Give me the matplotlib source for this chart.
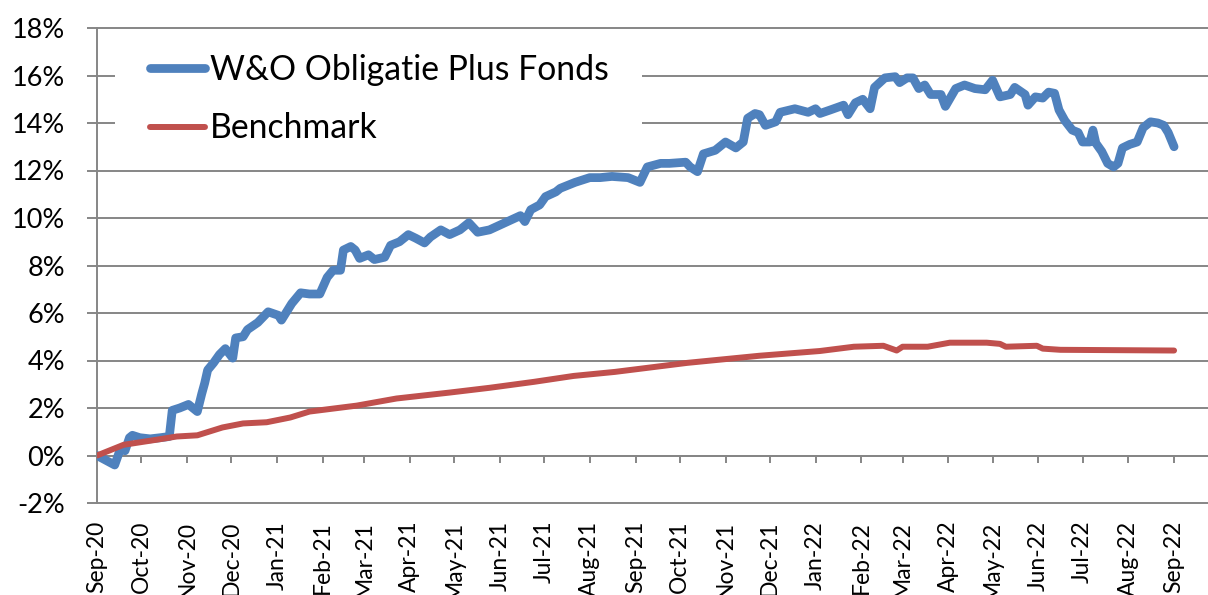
import pandas as pd
import matplotlib.pyplot as plt
import matplotlib.dates as mdates
from matplotlib.ticker import FuncFormatter
from matplotlib.patches import Rectangle

plt.rcParams['font.family'] = ['Lato', 'DejaVu Sans']

# cumulative return in % (days since 1 Sep 2020)
start = pd.Timestamp('2020-09-01')

fund_days = [0, 12, 16, 19, 22, 24, 29, 36, 43, 49, 51, 56, 62, 68, 71, 73, 75, 79, 83, 87,
             92, 94, 99, 102, 109, 116, 123, 125, 132, 138, 144, 151, 156, 160, 165, 167, 172,
             175, 178, 184, 188, 195, 199, 205, 211, 216, 222, 226, 233, 239, 246, 252, 258,
             266, 273, 280, 287, 290, 294, 300, 304, 311, 314, 324, 334, 341, 349, 360, 368,
             373, 382, 388, 399, 402, 407, 411, 419, 426, 433, 438, 441, 446, 449, 453, 460,
             463, 473, 482, 487, 490, 497, 506, 509, 514, 519, 524, 527, 534, 541, 544, 549,
             553, 557, 561, 565, 572, 575, 582, 588, 595, 602, 607, 612, 619, 622, 629, 631,
             636, 641, 645, 649, 652, 656, 661, 665, 668, 673, 675, 677, 681, 685, 689, 692,
             695, 700, 705, 709, 714, 719, 723, 726, 730]
fund_pct = [0.0, -0.4, 0.3, 0.2, 0.75, 0.85, 0.75, 0.7, 0.75, 0.8, 1.9, 2.0, 2.15, 1.85, 2.6,
            3.05, 3.6, 3.9, 4.25, 4.5, 4.1, 4.95, 5.0, 5.3, 5.6, 6.05, 5.9, 5.7, 6.4, 6.85, 6.8,
            6.8, 7.5, 7.8, 7.8, 8.65, 8.8, 8.65, 8.3, 8.45, 8.25, 8.35, 8.85, 9.0, 9.3, 9.15,
            8.95, 9.2, 9.5, 9.3, 9.5, 9.8, 9.4, 9.5, 9.7, 9.9, 10.1, 9.85, 10.35, 10.55, 10.9,
            11.1, 11.25, 11.5, 11.7, 11.7, 11.75, 11.7, 11.5, 12.15, 12.3, 12.3, 12.35, 12.15,
            11.95, 12.7, 12.85, 13.2, 12.95, 13.2, 14.2, 14.4, 14.35, 13.9, 14.05, 14.45, 14.6,
            14.45, 14.6, 14.4, 14.55, 14.75, 14.35, 14.85, 15.0, 14.6, 15.5, 15.9, 15.95, 15.7,
            15.9, 15.9, 15.45, 15.6, 15.2, 15.2, 14.7, 15.45, 15.6, 15.45, 15.4, 15.8, 15.1,
            15.2, 15.5, 15.2, 14.75, 15.1, 15.05, 15.3, 15.25, 14.55, 14.1, 13.7, 13.6, 13.2,
            13.2, 13.7, 13.15, 12.8, 12.3, 12.15, 12.3, 12.95, 13.1, 13.2, 13.8, 14.05, 14.0,
            13.9, 13.6, 13.0]

bench_days = [0, 18, 41, 54, 68, 85, 99, 115, 131, 144, 176, 203, 239, 266, 296, 323, 351,
              400, 449, 490, 513, 533, 542, 546, 563, 578, 603, 612, 616, 637, 641, 653, 730]
bench_pct = [0.0, 0.45, 0.67, 0.8, 0.85, 1.18, 1.35, 1.4, 1.6, 1.85, 2.1, 2.4, 2.65, 2.85,
             3.1, 3.35, 3.52, 3.9, 4.2, 4.4, 4.58, 4.62, 4.42, 4.58, 4.58, 4.75, 4.75, 4.7,
             4.58, 4.62, 4.5, 4.45, 4.42]

month_ticks = pd.date_range('2020-09-01', '2022-09-01', freq='MS')

grid_color = '#868686'

fig = plt.figure(figsize=(12.08, 5.95), dpi=100)
ax = fig.add_axes([97 / 1208, 1 - 503 / 595, 1 - 97 / 1208, (503 - 28) / 595])

fund_dates = start + pd.to_timedelta(fund_days, unit='D')
bench_dates = start + pd.to_timedelta(bench_days, unit='D')

ax.plot(fund_dates, fund_pct, color='#4F81BD', lw=6.3, solid_capstyle='round',
        solid_joinstyle='round', label='W&O Obligatie Plus Fonds', zorder=3)
ax.plot(bench_dates, bench_pct, color='#C0504D', lw=4.3, solid_capstyle='round',
        solid_joinstyle='round', label='Benchmark', zorder=3)

ax.set_ylim(-2, 18)
ax.set_yticks(range(-2, 19, 2))
ax.yaxis.set_major_formatter(FuncFormatter(lambda v, p: f'{v:.0f}%'))
ax.set_xlim(start, start + pd.Timedelta(days=753))
ax.set_xticks(month_ticks)
ax.xaxis.set_major_formatter(mdates.DateFormatter('%b-%y'))

ax.grid(axis='y', color=grid_color, lw=1.4)
for gl in ax.get_ygridlines():
    gl.set_clip_on(False)
ax.set_axisbelow(True)

ax.spines['top'].set_visible(False)
ax.spines['right'].set_visible(False)
ax.spines['bottom'].set_position(('data', 0))
for s in ['bottom', 'left']:
    ax.spines[s].set_color(grid_color)
    ax.spines[s].set_linewidth(1.4)

ax.tick_params(axis='x', direction='out', length=5, width=1.4, color=grid_color,
               pad=42, labelsize=16.5, labelrotation=90)
ax.tick_params(axis='y', direction='out', length=7, width=1.4, color=grid_color,
               pad=16, labelsize=19.5)

# white box behind the legend, hiding the gridlines
ax.add_patch(Rectangle((115 / 1208, 1 - 152 / 595), (642 - 115) / 1208, (152 - 40) / 595,
                       transform=fig.transFigure, facecolor='white', edgecolor='none',
                       zorder=2, clip_on=False))
ax.legend(loc='upper left', bbox_to_anchor=(150 / 1208, 1 - 54 / 595),
          bbox_transform=fig.transFigure, frameon=False, fontsize=24.3, borderpad=0,
          borderaxespad=0, handlelength=1.63, handletextpad=0.15, labelspacing=0.78)

plt.savefig('out.png', dpi=100)
plt.close()
